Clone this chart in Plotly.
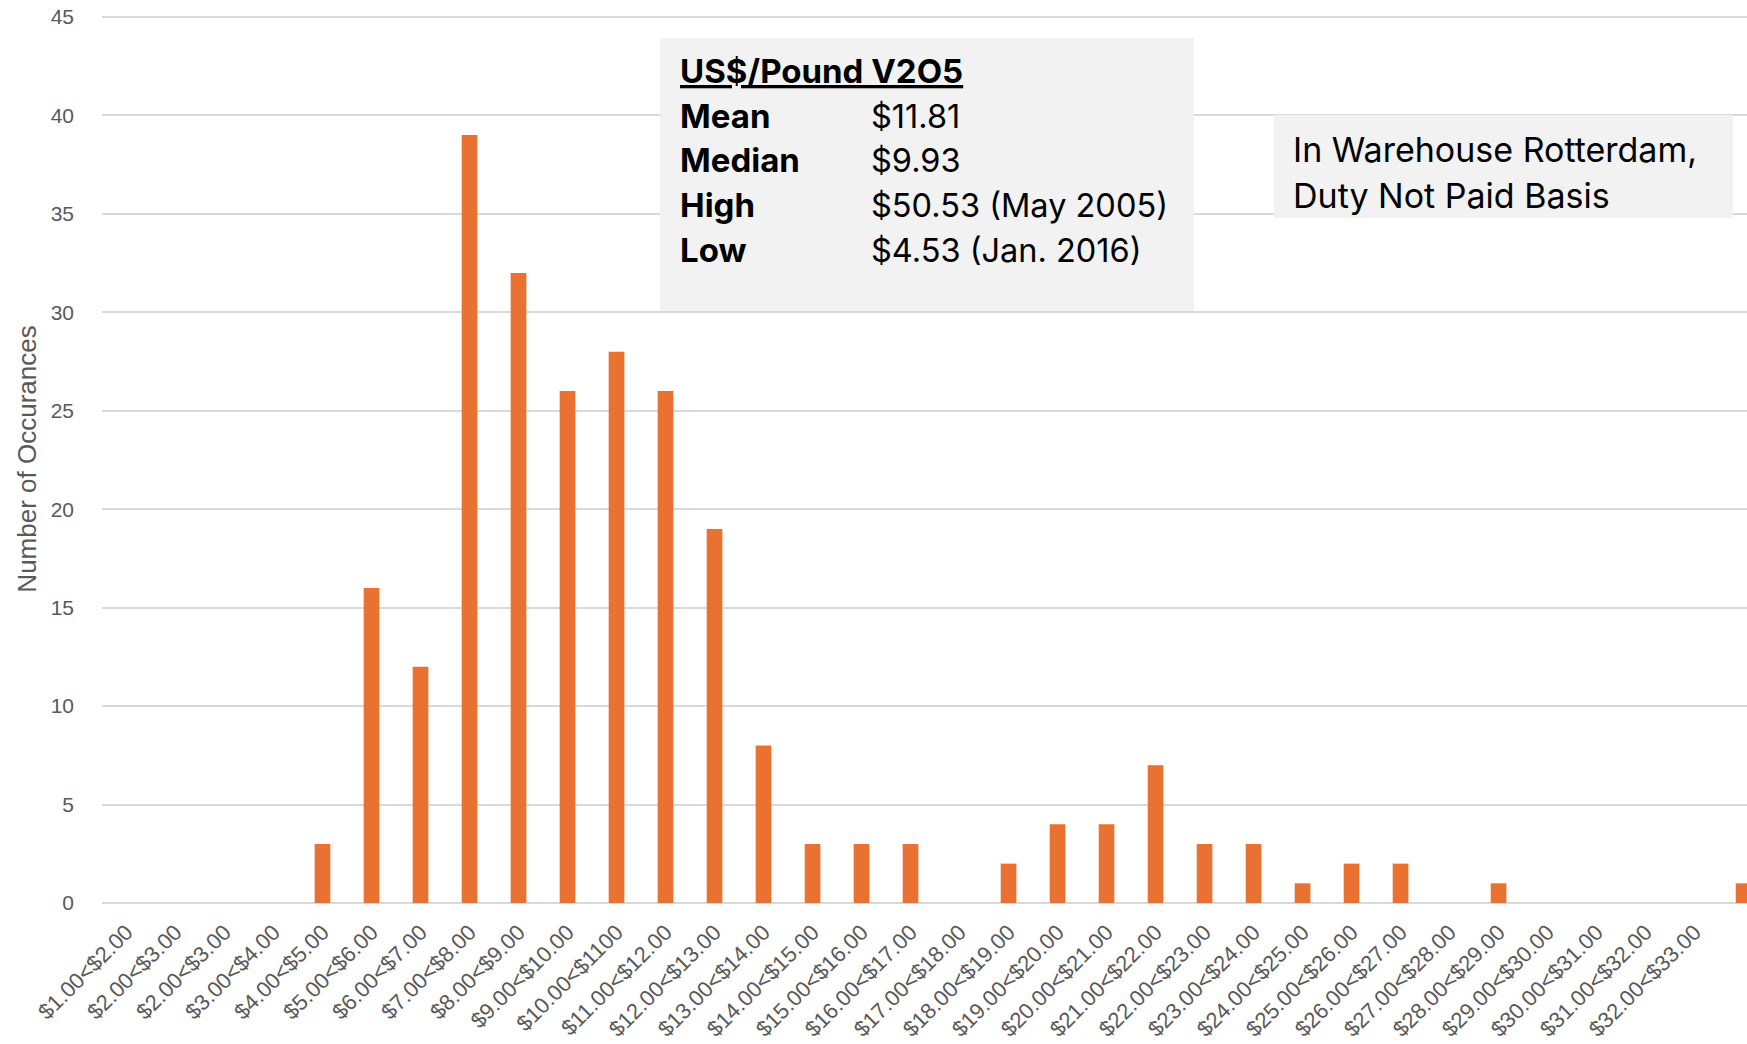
import plotly.graph_objects as go

# ---- data ----
bin_labels = [
    "$1.00<$2.00", "$2.00<$3.00", "$2.00<$3.00", "$3.00<$4.00", "$4.00<$5.00",
    "$5.00<$6.00", "$6.00<$7.00", "$7.00<$8.00", "$8.00<$9.00", "$9.00<$10.00",
    "$10.00<$1100", "$11.00<$12.00", "$12.00<$13.00", "$13.00<$14.00", "$14.00<$15.00",
    "$15.00<$16.00", "$16.00<$17.00", "$17.00<$18.00", "$18.00<$19.00", "$19.00<$20.00",
    "$20.00<$21.00", "$21.00<$22.00", "$22.00<$23.00", "$23.00<$24.00", "$24.00<$25.00",
    "$25.00<$26.00", "$26.00<$27.00", "$27.00<$28.00", "$28.00<$29.00", "$29.00<$30.00",
    "$30.00<$31.00", "$31.00<$32.00", "$32.00<$33.00",
]
# last bin is cut off at the right edge of the picture (its label is not visible)
occurrences = [0, 0, 0, 0, 3, 16, 12, 39, 32, 26, 28, 26, 19, 8, 3, 3, 3, 0, 2, 4,
               4, 7, 3, 3, 1, 2, 2, 0, 1, 0, 0, 0, 0, 1]
y_ticks = [0, 5, 10, 15, 20, 25, 30, 35, 40, 45]

stats_title = "US$/Pound V2O5"
stat_names = ["Mean", "Median", "High", "Low"]
stat_values = ["$11.81", "$9.93", "$50.53 (May 2005)", "$4.53 (Jan. 2016)"]
note_lines = ["In Warehouse Rotterdam,", "Duty Not Paid Basis"]

# ---- layout geometry ----
W, H = 1747, 1044
ML, MR, MT, MB = 102, 0, 15, 141
PW, PH = W - ML - MR, H - MT - MB


def px(x):
    return (x - ML) / PW


def py(y):
    return (H - MB - y) / PH


TICK_FONT = dict(family="Liberation Sans, Arial, sans-serif", size=21, color="#595959")
XTICK_FONT = dict(family="Liberation Sans, Arial, sans-serif", size=22, color="#595959")
BOX_FONT = "Inter, Lato, sans-serif"
FS = 33

fig = go.Figure()
fig.add_trace(go.Bar(
    x=list(range(len(occurrences))),
    y=occurrences,
    width=0.32,
    marker=dict(color="#E97132", line=dict(width=0)),
    hoverinfo="y",
))

shapes = [
    dict(type="rect", xref="paper", yref="paper", x0=px(660), x1=px(1194), y0=py(311), y1=py(38),
         fillcolor="#F2F2F2", line=dict(width=0), layer="above"),
    dict(type="rect", xref="paper", yref="paper", x0=px(1274), x1=px(1733), y0=py(218), y1=py(115),
         fillcolor="#F2F2F2", line=dict(width=0), layer="above"),
]

ann = []
ann.append(dict(text="<b><u>" + stats_title + "</u></b>", x=px(678), y=py(71), xref="paper", yref="paper",
                xanchor="left", yanchor="middle", showarrow=False,
                font=dict(family=BOX_FONT, size=FS, color="#000000")))
line_y = [116, 160, 205, 250]
for name, val, yy in zip(stat_names, stat_values, line_y):
    ann.append(dict(text="<b>" + name + "</b>", x=px(678), y=py(yy), xref="paper", yref="paper",
                    xanchor="left", yanchor="middle", showarrow=False,
                    font=dict(family=BOX_FONT, size=FS, color="#000000")))
    ann.append(dict(text=val, x=px(869), y=py(yy), xref="paper", yref="paper",
                    xanchor="left", yanchor="middle", showarrow=False,
                    font=dict(family=BOX_FONT, size=FS - 0.5, color="#000000")))
for line, yy in zip(note_lines, [150, 195]):
    ann.append(dict(text=line, x=px(1291), y=py(yy), xref="paper", yref="paper",
                    xanchor="left", yanchor="middle", showarrow=False,
                    font=dict(family=BOX_FONT, size=FS + 1, color="#000000")))

fig.update_layout(
    width=W, height=H,
    margin=dict(l=ML, r=MR, t=MT, b=MB, pad=0),
    plot_bgcolor="white", paper_bgcolor="white",
    showlegend=False,
    shapes=shapes,
    annotations=ann,
    xaxis=dict(
        range=[-0.5, 33.07],
        tickmode="array",
        tickvals=list(range(len(bin_labels))),
        ticktext=bin_labels,
        tickangle=-45,
        tickfont=XTICK_FONT,
        showgrid=False, showline=False, zeroline=False, ticks="",
        ticklabelstandoff=11,
        automargin=False,
    ),
    yaxis=dict(
        range=[0, 45.1],
        tickmode="array",
        tickvals=y_ticks,
        tickfont=TICK_FONT,
        ticklabeloverflow="allow",
        showgrid=True, gridcolor="#D9D9D9", gridwidth=1.5,
        zeroline=True, zerolinecolor="#D9D9D9", zerolinewidth=2,
        showline=False, ticks="",
        ticklabelstandoff=27,
        title=dict(text="Number of Occurances",
                   font=dict(family="Liberation Sans, Arial, sans-serif", size=26, color="#595959"),
                   standoff=6),
        automargin=False,
    ),
)

fig.write_html("out.html", config={"displayModeBar": False},
               post_script="document.body.style.margin='0';")
